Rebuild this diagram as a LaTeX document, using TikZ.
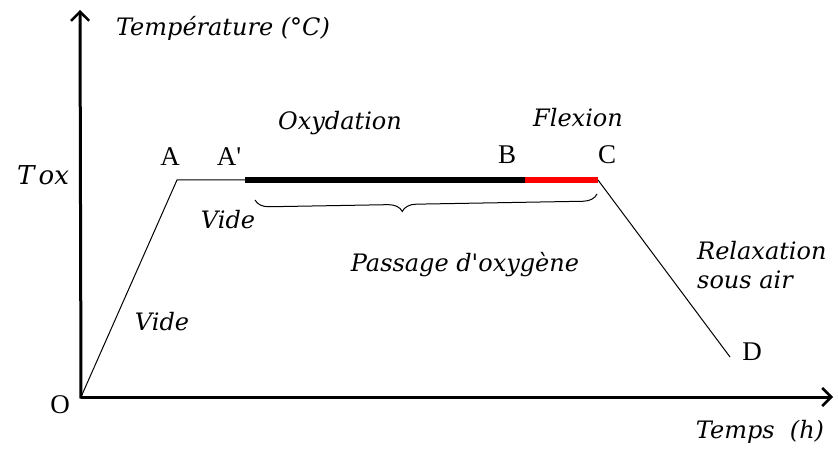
\documentclass[tikz,border=0pt]{standalone}
\usepackage{fontspec}
\setmainfont{Liberation Serif}
\newfontfamily\itfont{DejaVu Serif}
\usetikzlibrary{arrows.meta,positioning,decorations.pathreplacing}
\tikzset{
  ax/.style={line width=3pt, -{Straight Barb[length=9pt,width=18pt,line width=2.5pt]}},
  seg/.style={line width=1pt},
  bold/.style={line width=6pt},
  pt/.style={font=\fontsize{27}{30}\selectfont, inner sep=0pt},
  lbl/.style={font=\itfont\itshape\fontsize{24}{29}\selectfont, inner sep=0pt, align=left},
}

\begin{document}
\begin{tikzpicture}[x=1pt, y=1pt]
\useasboundingbox (0,0) rectangle (838,450);

% Points of the cycle
\coordinate (O) at (81,53);
\coordinate (A) at (177,270);
\coordinate (Ap) at (245,270);
\coordinate (B) at (525,270);
\coordinate (C) at (598,270);
\coordinate (D) at (730,93);
\coordinate (xend) at (833,53);
\coordinate (yend) at (80,440);

% Axes
\draw[ax] (O) -- (xend);
\draw[ax] ([yshift=-1.5pt]O) -- (yend);

% Cycle
\draw[seg] (O) -- (A) -- (Ap);
\draw[bold, line cap=butt] (Ap) -- (B);
\draw[bold, red, line cap=butt] (B) -- (C);
\draw[seg] (C) -- (D);

% Brace below the plateau
\draw[seg, decorate, decoration={brace, mirror, amplitude=14pt, aspect=0.43}]
  (255,250) -- (597,256);

% Point names
\node[pt] (nO) at (60,45) {O};
\node[pt] (nA) at (170,293) {A};
\node[pt] (nAp) at (229,293) {A\textquotesingle};
\node[pt] (nB) at (507,295) {B};
\node[pt] (nC) at (607,295) {C};
\node[pt] (nD) at (752,98) {D};

% Labels
\node[lbl] (ylab) at (223,422) {Température (°C)};
\node[lbl, font=\itfont\itshape\fontsize{26}{29}\selectfont] (tox) at (43,275) {T\,ox};
\node[lbl] (oxy) at (340,327) {Oxydation};
\node[lbl] (flex) at (578,332) {Flexion};
\node[lbl] (vide1) at (228,230) {Vide};
\node[lbl] (vide2) at (162,128) {Vide};
\node[lbl] (pass) at (465,185) {Passage d\textquotesingle oxygène};
\node[lbl, anchor=west] (relax) at (697,185) {Relaxation\\sous air};
\node[lbl] (xlab) at (760,18) {Temps\ \ (h)};

\end{tikzpicture}
\end{document}
